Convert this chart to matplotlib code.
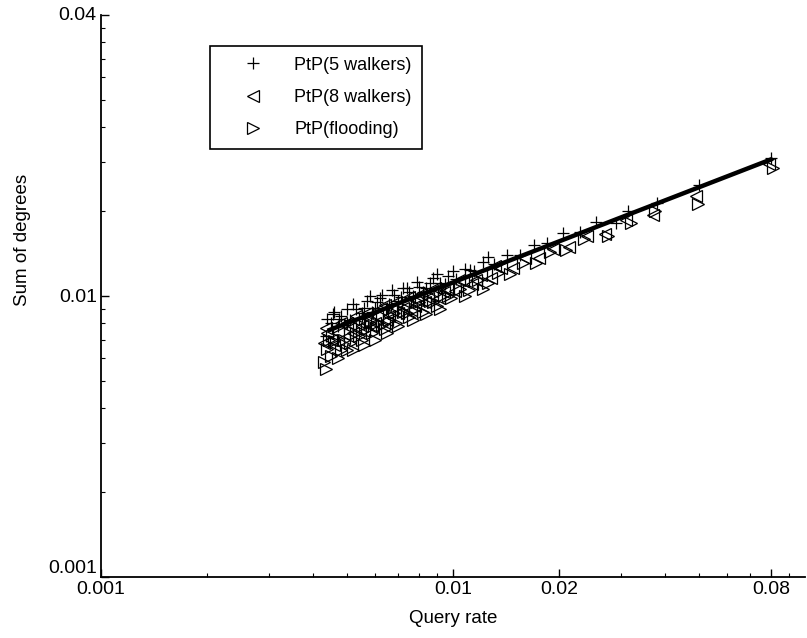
import matplotlib
matplotlib.use("Agg")
import matplotlib.pyplot as plt
from matplotlib.ticker import FixedLocator, FixedFormatter, LogLocator, NullFormatter

plt.rcParams['font.family'] = ['Liberation Sans', 'DejaVu Sans']

# ---- data ----
x5 = [0.0044, 0.0045, 0.0046, 0.0047, 0.0048, 0.0050, 0.0051, 0.0053, 0.0055, 0.0057,
      0.0059, 0.0061, 0.0063, 0.0066, 0.0068, 0.0071, 0.0074, 0.0077, 0.0080, 0.0084,
      0.0088, 0.0092, 0.0097, 0.0102, 0.0108, 0.0115, 0.0122, 0.0131, 0.0142, 0.0155,
      0.0170, 0.0185, 0.0205, 0.0230, 0.0255, 0.0290, 0.0315, 0.0380, 0.0500, 0.0800,
      0.00435, 0.00455, 0.00475, 0.0049, 0.0052, 0.0054, 0.0056, 0.0058, 0.0060, 0.0062,
      0.0065, 0.0067, 0.0070, 0.0072, 0.0075, 0.0079, 0.0082, 0.0086, 0.0090, 0.0095,
      0.0100, 0.0112, 0.0126]
y5 = [0.0083, 0.0080, 0.0088, 0.0078, 0.0085, 0.0090, 0.0082, 0.0090, 0.0087, 0.0096,
      0.0088, 0.0095, 0.0101, 0.0094, 0.0101, 0.0099, 0.0107, 0.0100, 0.0108, 0.0107,
      0.0116, 0.0111, 0.0118, 0.0115, 0.0125, 0.0123, 0.0132, 0.0130, 0.0140, 0.0140,
      0.0152, 0.0154, 0.0168, 0.0169, 0.0183, 0.0182, 0.0201, 0.0214, 0.0249, 0.0309,
      0.0072, 0.0086, 0.0083, 0.0079, 0.0094, 0.0083, 0.0091, 0.0100, 0.0091, 0.0098,
      0.0091, 0.0105, 0.0096, 0.0107, 0.0103, 0.0112, 0.0103, 0.0111, 0.0120, 0.0110,
      0.0123, 0.0124, 0.0138]

x8 = [0.0043, 0.0044, 0.0046, 0.0047, 0.0049, 0.0050, 0.0052, 0.0054, 0.0056, 0.0058,
      0.0060, 0.0062, 0.0065, 0.0067, 0.0070, 0.0073, 0.0076, 0.0079, 0.0083, 0.0087,
      0.0091, 0.0096, 0.0101, 0.0107, 0.0113, 0.0120, 0.0128, 0.0137, 0.0148, 0.0160,
      0.0175, 0.0192, 0.0213, 0.0240, 0.0270, 0.0310, 0.0370, 0.0490, 0.0790,
      0.00435, 0.0045, 0.0048, 0.0051, 0.0053, 0.0055, 0.0057, 0.0059, 0.0061, 0.0064,
      0.0066, 0.0069, 0.0072, 0.0075, 0.0078, 0.0081, 0.0085, 0.0089, 0.0094, 0.0104,
      0.0116, 0.0132]
y8 = [0.0068, 0.0074, 0.0067, 0.0074, 0.0071, 0.0080, 0.0074, 0.0081, 0.0075, 0.0083,
      0.0080, 0.0090, 0.0082, 0.0089, 0.0087, 0.0095, 0.0089, 0.0097, 0.0095, 0.0104,
      0.0098, 0.0106, 0.0104, 0.0113, 0.0110, 0.0119, 0.0116, 0.0126, 0.0126, 0.0136,
      0.0136, 0.0147, 0.0150, 0.0164, 0.0166, 0.0186, 0.0194, 0.0227, 0.0295,
      0.0077, 0.0070, 0.0080, 0.0077, 0.0085, 0.0078, 0.0087, 0.0078, 0.0085, 0.0093,
      0.0085, 0.0095, 0.0091, 0.0099, 0.0092, 0.0102, 0.0098, 0.0107, 0.0103, 0.0114,
      0.0114, 0.0128]

xf = [0.0043, 0.0044, 0.0045, 0.0046, 0.0048, 0.0049, 0.0051, 0.0053, 0.0055, 0.0057,
      0.0059, 0.0061, 0.0064, 0.0066, 0.0069, 0.0072, 0.0075, 0.0078, 0.0082, 0.0086,
      0.0090, 0.0094, 0.0099, 0.0105, 0.0111, 0.0118, 0.0126, 0.0134, 0.0145, 0.0158,
      0.0172, 0.0188, 0.0210, 0.0235, 0.0275, 0.0320, 0.0375, 0.0495, 0.0810,
      0.00435, 0.00445, 0.0047, 0.0050, 0.0052, 0.0054, 0.0056, 0.0058, 0.0060, 0.0063,
      0.0065, 0.0068, 0.0070, 0.0074, 0.0077, 0.0080, 0.0084, 0.0088, 0.0092, 0.0097,
      0.0108, 0.0122]
yf = [0.0058, 0.0065, 0.0061, 0.0069, 0.0064, 0.0070, 0.0068, 0.0074, 0.0070, 0.0076,
      0.0074, 0.0080, 0.0076, 0.0082, 0.0080, 0.0088, 0.0084, 0.0090, 0.0088, 0.0096,
      0.0092, 0.0101, 0.0098, 0.0106, 0.0105, 0.0114, 0.0111, 0.0121, 0.0120, 0.0131,
      0.0131, 0.0143, 0.0146, 0.0159, 0.0164, 0.0182, 0.0201, 0.0213, 0.0286,
      0.0055, 0.0070, 0.0060, 0.0064, 0.0064, 0.0072, 0.0067, 0.0080, 0.0070, 0.0079,
      0.0074, 0.0087, 0.0078, 0.0087, 0.0082, 0.0095, 0.0086, 0.0095, 0.0090, 0.0100,
      0.0100, 0.0106]

fit_x = [0.0044, 0.01, 0.02, 0.05, 0.081]
fit_y = [0.00752, 0.01118, 0.01564, 0.02438, 0.0308]

labels = ['PtP(5 walkers)', 'PtP(8 walkers)', 'PtP(flooding)']
x_ticks = [0.001, 0.01, 0.02, 0.08]
x_ticklabels = ['0.001', '0.01', '0.02', '0.08']
y_ticks = [0.001, 0.01, 0.1]
y_ticklabels = ['0.001', '0.01', '0.04']

# ---- figure ----
fig = plt.figure(figsize=(8.07, 6.38), dpi=100)
ax = fig.add_axes([101/807, (638-577)/638, (805-101)/807, (577-15)/638])

ax.set_xscale('log')
ax.set_yscale('log')

ax.plot(x5, y5, linestyle='none', marker='+', markersize=9, markeredgewidth=0.9,
        color='black', label=labels[0])
ax.plot(x8, y8, linestyle='none', marker='<', markersize=8, markeredgewidth=0.9,
        fillstyle='none', color='black', label=labels[1])
ax.plot(xf, yf, linestyle='none', marker='>', markersize=8, markeredgewidth=0.9,
        fillstyle='none', color='black', label=labels[2])
ax.plot(fit_x, fit_y, color='black', linewidth=3.2, solid_capstyle='butt')

ax.set_xlim(0.001, 0.1)
ax.set_ylim(0.001, 0.1)

ax.xaxis.set_major_locator(FixedLocator(x_ticks))
ax.xaxis.set_major_formatter(FixedFormatter(x_ticklabels))
ax.xaxis.set_minor_locator(LogLocator(base=10, subs=range(2, 10)))
ax.xaxis.set_minor_formatter(NullFormatter())
ax.yaxis.set_major_locator(FixedLocator(y_ticks))
ax.yaxis.set_major_formatter(FixedFormatter(y_ticklabels))
ax.yaxis.set_minor_locator(LogLocator(base=10, subs=range(2, 10)))
ax.yaxis.set_minor_formatter(NullFormatter())

ax.tick_params(which='major', direction='in', length=6, width=1, labelsize=14, pad=3)
ax.tick_params(which='minor', direction='in', length=3, width=0.8)

for s in ['top', 'right']:
    ax.spines[s].set_visible(False)
for s in ['left', 'bottom']:
    ax.spines[s].set_linewidth(1.3)

ax.set_xlabel('Query rate', fontsize=13.5)
ax.set_ylabel('Sum of degrees', fontsize=13.5)
ax.yaxis.set_label_coords(-0.100, 0.60)
ax.xaxis.set_label_coords(0.5, -0.058)

leg = ax.legend(loc='upper left', bbox_to_anchor=(0.155, 0.945), fontsize=13,
                frameon=True, fancybox=False, edgecolor='black', framealpha=1,
                borderpad=0.6, labelspacing=0.85, handletextpad=0.45, handlelength=3.6,
                borderaxespad=0)
leg.get_frame().set_linewidth(1.2)

fig.canvas.draw()
ylab = ax.get_yticklabels()
ylab[0].set_verticalalignment('bottom')
ylab[-1].set_verticalalignment('center')

fig.savefig('out.png', dpi=100)
